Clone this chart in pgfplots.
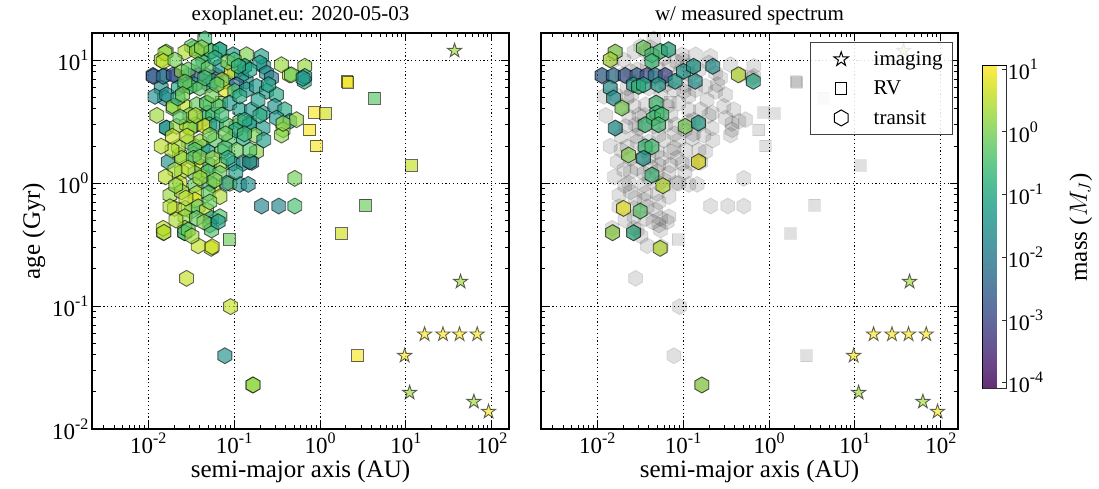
\documentclass[border=0pt]{standalone}
\usepackage{fontspec}
\setmainfont{Liberation Serif}
\usepackage{pgfplots}
\usepackage{pgfplotstable}
\pgfplotsset{compat=1.18}

\newcommand{\tp}[1]{10\raisebox{0.45em}{\fontsize{16}{17}\selectfont #1}}

\pgfdeclareplotmark{hexa}{%
\pgfpathmoveto{\pgfpointpolar{90}{\pgfplotmarksize}}%
\pgfpathlineto{\pgfpointpolar{150}{\pgfplotmarksize}}%
\pgfpathlineto{\pgfpointpolar{210}{\pgfplotmarksize}}%
\pgfpathlineto{\pgfpointpolar{270}{\pgfplotmarksize}}%
\pgfpathlineto{\pgfpointpolar{330}{\pgfplotmarksize}}%
\pgfpathlineto{\pgfpointpolar{30}{\pgfplotmarksize}}%
\pgfpathclose\pgfusepathqfillstroke}
\pgfdeclareplotmark{fstar}{%
\pgfpathmoveto{\pgfpointpolar{90}{\pgfplotmarksize}}%
\pgfpathlineto{\pgfpointpolar{126}{0.382\pgfplotmarksize}}%
\pgfpathlineto{\pgfpointpolar{162}{\pgfplotmarksize}}%
\pgfpathlineto{\pgfpointpolar{198}{0.382\pgfplotmarksize}}%
\pgfpathlineto{\pgfpointpolar{234}{\pgfplotmarksize}}%
\pgfpathlineto{\pgfpointpolar{270}{0.382\pgfplotmarksize}}%
\pgfpathlineto{\pgfpointpolar{306}{\pgfplotmarksize}}%
\pgfpathlineto{\pgfpointpolar{342}{0.382\pgfplotmarksize}}%
\pgfpathlineto{\pgfpointpolar{18}{\pgfplotmarksize}}%
\pgfpathlineto{\pgfpointpolar{54}{0.382\pgfplotmarksize}}%
\pgfpathclose\pgfusepathqfillstroke}

% columns: log10(a/AU)  log10(age/Gyr)  log10(mass/MJ)
\pgfplotstableread{
lx ly lm
-1.341 1.173 -0.55
-1.806 1.057 0.25
-1.826 0.989 0.55
-1.495 1.111 -0.25
-1.573 1.065 0.45
-1.437 1.071 0.25
-1.263 1.071 -0.35
-1.166 1.084 -1.0
-1.012 1.043 -1.3
-0.856 1.043 0.05
-0.681 1.030 -1.2
-0.449 0.962 0.25
-0.333 0.880 -0.15
-0.178 0.949 0.25
-0.178 0.867 -1.4
-1.942 0.867 -2.6
-1.826 0.867 -2.2
-1.709 0.880 -2.8
-1.612 0.908 0.15
-1.535 0.921 -0.25
-1.419 0.962 -0.35
-1.302 0.935 -0.25
-1.166 0.949 -1.3
-1.030 0.908 0.9
-0.914 0.880 -1.4
-0.876 0.949 -1.0
-0.701 0.976 -1.3
-0.623 0.894 -1.6
-0.565 0.854 -2.0
-0.972 0.799 -2.3
-1.922 0.705 -1.6
-1.786 0.718 -1.5
-1.651 0.772 -1.1
-1.515 0.786 -0.35
-1.399 0.772 -0.25
-1.244 0.827 -1.2
-1.108 0.759 0.8
-0.992 0.746 -0.45
-0.856 0.759 -1.3
-0.740 0.786 -1.4
-0.623 0.746 -1.3
-0.507 0.718 -1.0
-1.709 0.624 0.25
-1.573 0.624 0.55
-1.437 0.637 -0.15
-1.321 0.650 -0.25
-1.186 0.624 -0.35
-1.050 0.650 -1.3
-0.934 0.596 -1.2
-0.798 0.596 -1.4
-0.663 0.569 -1.3
-0.527 0.624 -1.5
-0.410 0.596 -1.0
-0.352 0.502 -1.5
-0.274 0.515 0.25
-1.786 0.447 -1.4
-1.670 0.461 0.25
-1.553 0.474 0.55
-1.457 0.474 -0.15
-1.341 0.461 0.9
-1.205 0.474 -1.3
-1.088 0.474 -0.35
-0.934 0.502 -0.25
-0.817 0.474 -1.2
-0.663 0.447 -1.3
-0.507 0.528 -1.4
-0.430 0.433 0.15
-1.515 0.445 0.25
-1.535 0.336 -0.15
-1.399 0.336 0.25
-1.224 0.350 -0.25
-1.050 0.350 -0.35
-0.895 0.363 -1.0
-0.759 0.390 0.05
-0.449 0.390 0.15
-1.651 0.295 0.35
-1.457 0.268 -0.35
-1.302 0.254 -1.3
-1.147 0.254 -0.25
-0.972 0.268 -0.15
-0.740 0.254 0.15
-1.767 0.173 -1.5
-1.612 0.201 0.35
-1.477 0.201 -0.15
-1.379 0.133 0.8
-1.283 0.146 -1.3
-1.147 0.146 0.25
-1.012 0.160 -1.4
-0.895 0.160 -1.6
-0.794 0.168 -2.2
-0.817 0.173 -1.5
-1.612 0.092 0.45
-1.457 0.079 -0.35
-1.302 0.092 -0.25
-1.166 0.079 -0.15
-1.631 -0.002 0.55
-1.457 -0.016 -0.25
-1.283 -0.002 -0.55
-1.050 -0.002 0.6
-1.088 -0.002 -1.4
-0.934 -0.011 -1.5
-0.837 -0.011 -1.6
-1.748 -0.098 0.25
-1.612 -0.071 0.35
-1.437 -0.084 0.45
-1.302 -0.084 -0.25
-1.166 -0.111 0.4
-1.457 -0.138 0.8
-1.748 -0.193 0.4
-1.573 -0.206 0.35
-1.419 -0.193 -0.15
-1.321 -0.220 0.5
-1.573 -0.274 0.25
-1.437 -0.287 -0.15
-1.263 -0.287 -1.3
-1.166 -0.274 -0.35
-1.826 -0.368 0.55
-1.573 -0.368 0.05
-1.283 -0.341 -1.0
-1.573 -0.404 -0.35
-1.535 -0.382 -0.25
-1.263 -0.382 -0.35
-1.186 -0.315 -1.3
-0.294 0.038 -0.05
-0.681 -0.187 -1.8
-0.480 -0.187 -1.8
-0.294 -0.187 -0.45
-1.817 -0.401 0.5
-1.419 -0.510 0.6
-1.256 -0.518 0.7
-1.554 -0.775 0.6
-1.042 -1.005 0.6
-1.108 -1.404 -1.5
-0.779 -1.642 0.2
-1.387 -2.008 0.6
-0.430 0.485 0.15
-0.198 0.851 -1.3
-1.690 1.000 -0.05
-1.224 1.016 -0.9
-1.073 0.984 0.05
-0.817 0.919 -1.1
-1.573 0.821 -0.15
-1.341 0.854 -0.45
-1.143 0.837 0.25
-0.934 0.707 -1.0
-1.259 0.715 -0.05
-1.655 0.691 -0.9
-0.722 0.675 -1.2
-1.515 0.553 0.05
-1.143 0.553 -0.55
-0.876 0.512 -1.0
-1.631 0.537 -0.25
-1.283 0.390 -0.05
-0.980 0.431 -1.1
-0.655 0.350 -1.3
-1.550 0.382 0.55
-1.108 0.285 -0.45
-1.724 0.268 0.45
-0.817 0.268 -0.35
-1.399 0.211 0.05
-1.073 0.203 -0.9
-1.538 0.122 0.5
-1.224 0.024 0.05
-1.399 0.041 0.4
-0.980 0.089 -1.2
-1.690 0.106 0.35
-1.562 -0.122 0.5
-1.283 -0.154 -0.15
-1.678 -0.301 0.4
-1.492 -0.431 0.3
-1.352 -0.317 0.05
-1.900 0.550 0.3
-1.850 0.300 0.5
-1.720 0.380 0.6
-1.800 0.050 0.5
-1.680 -0.020 0.2
-1.200 0.800 -0.2
-1.000 1.000 -0.4
-0.600 0.800 -1.1
-0.700 0.550 -0.9
-1.380 1.100 0.1
-0.950 0.950 -0.8
-1.600 0.720 0.0
-1.450 0.550 0.4
-1.250 0.200 0.2
-1.100 0.400 -0.1
-0.880 0.400 -0.6
}\transit

\pgfplotstableread{
lx ly lm
-1.791 1.065 0.1
-1.849 1.003 0.4
-1.462 1.098 -0.1
-1.364 1.043 -0.5
-1.267 1.071 -0.5
-1.171 1.084 -1.0
-1.364 0.989 -0.6
-1.945 0.875 -2.5
-1.810 0.875 -2.2
-1.674 0.875 -2.8
-1.538 0.875 -2.6
-1.422 0.875 -2.9
-1.326 0.875 -2.0
-1.209 0.875 -3.0
-1.093 0.827 -1.3
-0.997 0.908 -1.4
-0.880 0.949 -1.3
-0.860 0.827 -1.5
-0.655 0.949 -1.6
-0.357 0.880 0.5
-0.183 0.827 -1.0
-1.849 0.772 -1.5
-1.810 0.691 -1.6
-1.578 0.799 -1.2
-1.520 0.786 -0.6
-1.462 0.799 -1.0
-1.287 0.799 -1.3
-1.713 0.610 0.0
-1.314 0.650 -0.5
-1.306 0.569 -0.6
-1.345 0.528 -0.5
-1.248 0.555 -0.5
-1.442 0.474 -0.6
-1.287 0.474 -0.5
-0.977 0.461 0.0
-0.822 0.488 -1.2
-1.791 0.447 -1.5
-1.442 0.295 -0.6
-1.364 0.295 -0.5
-1.636 0.228 0.1
-1.462 0.201 -1.4
-0.822 0.173 0.9
-1.364 0.065 -0.6
-1.236 -0.022 0.5
-1.694 -0.206 0.9
-1.500 -0.228 -0.3
-1.822 -0.404 0.2
-1.578 -0.404 -0.8
-1.267 -0.531 0.5
-0.783 -1.642 0.2
}\spec

\pgfplotstableread{
lx ly lm
0.314 0.824 1.0
0.326 0.819 0.9
0.636 0.689 -0.3
-0.062 0.575 1.0
0.063 0.564 0.7
-0.120 0.431 1.0
-0.040 0.303 1.0
1.063 0.141 0.6
0.531 -0.181 -0.1
0.249 -0.409 0.7
-1.058 -0.458 -0.1
0.435 -1.404 1.0
-1.151 0.659 0.0
}\rv

\pgfplotstableread{
lx ly lm
1.566 1.076 0.3
1.636 -0.802 0.3
1.217 -1.230 1.0
1.431 -1.230 1.0
1.624 -1.230 1.0
1.830 -1.230 1.0
0.985 -1.404 1.0
1.043 -1.705 0.3
1.791 -1.778 0.3
1.962 -1.859 1.0
}\imaging

\pgfplotsset{
  base/.style={
    scale only axis, width=417pt, height=396pt,
    xmin=-2.655, xmax=2.2, ymin=-2, ymax=1.22,
    xtick={-2,-1,0,1,2},
    xticklabels={\tp{-2},\tp{-1},\tp{0},\tp{1},\tp{2}},
    ytick={-2,-1,0,1},
    minor xtick={-2.699,-2.523,-2.398,-2.301,-2.222,-2.155,-2.097,-2.046,
      -1.699,-1.523,-1.398,-1.301,-1.222,-1.155,-1.097,-1.046,
      -0.699,-0.523,-0.398,-0.301,-0.222,-0.155,-0.097,-0.046,
      0.301,0.477,0.602,0.699,0.778,0.845,0.903,0.954,
      1.301,1.477,1.602,1.699,1.778,1.845,1.903,1.954},
    minor ytick={-1.699,-1.523,-1.398,-1.301,-1.222,-1.155,-1.097,-1.046,
      -0.699,-0.523,-0.398,-0.301,-0.222,-0.155,-0.097,-0.046,
      0.301,0.477,0.602,0.699,0.778,0.845,0.903,0.954},
    tick align=inside, xtick pos=both, ytick pos=both,
    major tick length=8pt, minor tick length=4pt,
    every tick/.style={black, line width=1pt},
    grid=major, major grid style={black, line width=1pt, dash pattern=on 1.2pt off 2.6pt},
    axis line style={line width=1.3pt},
    tick label style={font=\fontsize{23}{25}\selectfont},
    label style={font=\fontsize{25}{27}\selectfont},
    title style={font=\fontsize{21}{23}\selectfont, yshift=-2pt},
    colormap/viridis, point meta min=-4.1, point meta max=1.05,
  },
  colored/.style={scatter, only marks, scatter src=explicit, forget plot,
    scatter/use mapped color={draw=black, draw opacity=0.6, fill=mapped color, fill opacity=0.66, line width=0.9pt}},
  grayed/.style={only marks, forget plot,
    mark options={draw=black, draw opacity=0.1, fill=black, fill opacity=0.12, line width=0.9pt}},
}

\begin{document}
\begin{tikzpicture}
\useasboundingbox (0,0) rectangle (1099pt,489pt);
\begin{axis}[base, at={(92pt,60pt)}, anchor=south west,
  title={exoplanet.eu: 2020-05-03},
  xlabel={semi-major axis (AU)}, ylabel={age (Gyr)},
  yticklabels={\tp{-2},\tp{-1},\tp{0},\tp{1}}]
\addplot[colored, mark=fstar, mark size=7.5pt] table[x=lx,y=ly,meta=lm] {\imaging};
\addplot[colored, mark=square*, mark size=5.8pt] table[x=lx,y=ly,meta=lm] {\rv};
\addplot[colored, mark=hexa, mark size=8pt] table[x=lx,y=ly,meta=lm] {\spec};
\addplot[colored, mark=hexa, mark size=8pt] table[x=lx,y=ly,meta=lm] {\transit};
\end{axis}

\begin{axis}[base, at={(541pt,60pt)}, anchor=south west,
  title={w/ measured spectrum},
  xlabel={semi-major axis (AU)}, yticklabels={},
  legend cell align=left,
  legend style={at={(axis description cs:0.988,0.977)}, anchor=north east,
    draw=black!75, line width=1pt, fill=white, fill opacity=0.85, text opacity=1,
    font=\fontsize{21}{23}\selectfont, row sep=10pt, inner xsep=8pt, inner ysep=7pt},
  legend image code/.code={\draw[#1] plot coordinates {(22pt,0pt)}; \path (0pt,0pt) (52pt,0pt);},
  colorbar,
  colorbar style={
    at={(parent axis.north east)}, anchor=north west, xshift=16pt, yshift=-33pt,
    scale only axis, width=24pt, height=323pt,
    ytick={-4,-3,-2,-1,0,1},
    yticklabels={\tp{-4},\tp{-3},\tp{-2},\tp{-1},\tp{0},\tp{1}},
    yticklabel pos=right, ytick pos=right, ylabel near ticks,
    tick align=inside, major tick length=5pt,
    every tick/.style={black, line width=0.8pt},
    axis line style={line width=1pt},
    ylabel={mass ($M_J$)}, ylabel shift=22pt,
    tick label style={font=\fontsize{22}{24}\selectfont, inner xsep=1pt},
    ylabel style={font=\fontsize{25}{27}\selectfont},
    after end axis/.code={\fill[white, opacity=0.18] (rel axis cs:0,0) rectangle (rel axis cs:1,1);},
  }]
\addplot[grayed, mark=square*, mark size=5.8pt] table[x=lx,y=ly] {\rv};
\addplot[grayed, mark=hexa, mark size=8pt] table[x=lx,y=ly] {\transit};
\addplot[grayed, mark=hexa, mark size=8pt] table[x=lx,y=ly] {\spec};
\addplot[colored, mark=hexa, mark size=8pt] table[x=lx,y=ly,meta=lm] {\spec};
\addplot[colored, mark=fstar, mark size=7.5pt] table[x=lx,y=ly,meta=lm] {\imaging};
\addlegendimage{only marks, mark=fstar, mark size=7.5pt, mark options={fill=white, draw=black, line width=1pt}}
\addlegendentry{imaging}
\addlegendimage{only marks, mark=square*, mark size=5.8pt, mark options={fill=white, draw=black, line width=1pt}}
\addlegendentry{RV}
\addlegendimage{only marks, mark=hexa, mark size=8pt, mark options={fill=white, draw=black, line width=1pt}}
\addlegendentry{transit}
\end{axis}
\end{tikzpicture}
\end{document}
